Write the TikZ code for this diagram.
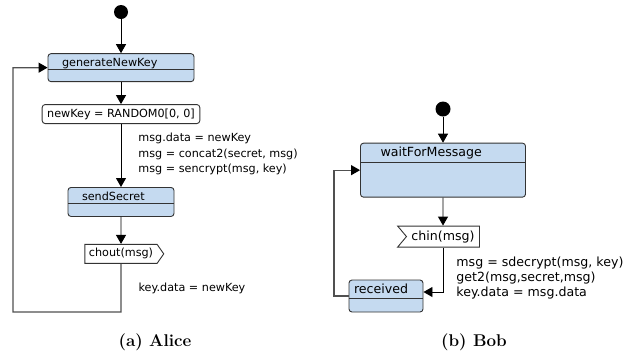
\documentclass[tikz,border=0pt]{standalone}
\usepackage{xcolor}
\usepackage{fontspec}
\usepackage{tikz}
\usetikzlibrary{shapes.symbols, arrows.meta, positioning}

\newfontfamily\diagfont{DejaVu Sans}
\definecolor{stateblue}{HTML}{C5DAF0}
\definecolor{edgegray}{HTML}{333333}
\definecolor{loopgray}{HTML}{505050}

\begin{document}
\begin{tikzpicture}[
  x=1pt, y=-1pt,
  init/.style={circle, fill=black, minimum size=14pt, inner sep=0pt},
  bar/.store in=\statebar, bar=16,
  state/.style={rectangle, draw=edgegray, fill=stateblue, rounded corners=3pt, line width=0.9pt,
    align=left, inner ysep=3pt, text height=10pt,
    path picture={\draw[edgegray, line width=0.9pt]
      ([yshift=-\statebar pt]path picture bounding box.north west) --
      ([yshift=-\statebar pt]path picture bounding box.north east);}},
  guard/.style={rectangle, draw=edgegray, fill=white, rounded corners=3pt, line width=0.9pt,
    inner xsep=5pt, inner ysep=2pt, minimum height=19pt},
  sendsig/.style={signal, signal to=east, signal from=nowhere, signal pointer angle=110,
    draw=edgegray, fill=white, line width=0.9pt, inner xsep=4pt, inner ysep=2pt, minimum height=19pt},
  recvsig/.style={signal, signal from=west, signal to=nowhere, signal pointer angle=100,
    draw=edgegray, fill=white, line width=0.9pt, inner xsep=5pt, inner ysep=2pt, minimum height=21pt},
  effect/.style={align=left, inner sep=0pt},
  arr/.style={-{Triangle[length=9pt, width=10pt, color=black]}, line width=0.9pt},
  loopline/.style={draw=loopgray, line width=1.2pt},
  caption/.style={font=\bfseries\fontsize{17}{20}\selectfont},
]
\useasboundingbox (0,0) rectangle (644,360);

% Alice
\begin{scope}[nodes={font=\diagfont\fontsize{11.2}{15.5}\selectfont}]
\node[init] (aliceinit) at (121,12) {};
\node[state, below=34pt of aliceinit, text width=118pt, inner xsep=14pt, text depth=12pt, bar=16] (gen) {generateNewKey};
\node[guard, below=22pt of gen] (newkey) {newKey = RANDOM0[0, 0]};
\node[state, below=63pt of newkey, text width=78pt, inner xsep=14pt, text depth=13pt, bar=16] (send) {sendSecret};
\node[sendsig, below=27pt of send] (chout) {chout(msg)};
\coordinate (aliceturn) at (121,312);
\coordinate (aliceback) at (13,312);

\draw[arr] (aliceinit) -- (gen);
\draw[arr] (gen) -- (newkey);
\draw[arr] (newkey) -- node[effect, right=17pt, pos=0.48]
  {msg.data = newKey\\msg = concat2(secret, msg)\\msg = sencrypt(msg, key)} (send);
\draw[arr] (send) -- (chout);
\draw[arr, loopline] (chout) -- node[effect, right=17pt, pos=0.52] {key.data = newKey}
  (aliceturn) -- (aliceback) |- (gen);
\end{scope}

% Bob
\begin{scope}[nodes={font=\diagfont\fontsize{12.6}{15.2}\selectfont}]
\node[init, minimum size=15pt] (bobinit) at (443,109) {};
\node[state, below=26pt of bobinit, text width=125pt, inner xsep=20pt, text depth=38pt, bar=19] (wait) {waitForMessage};
\node[recvsig, below=28pt of wait] (chin) {chin(msg)};
\node[state, text width=64pt, inner xsep=5pt, text depth=16pt, bar=18] (recv) at (386,296) {received};
\coordinate (bobback) at (334,296);

\draw[arr] (bobinit) -- (wait);
\draw[arr] (wait) -- (chin);
\draw[arr] (chin) |- node[effect, right=13pt, pos=0.34]
  {msg = sdecrypt(msg, key)\\get2(msg,secret,msg)\\key.data = msg.data} ([yshift=4pt]recv.east);
\draw[arr, loopline] (recv) -- (bobback) |- (wait);
\end{scope}

\node[caption] (alicecap) at (155,342) {(a) Alice};
\node[caption] (bobcap) at (474,342) {(b) Bob};
\end{tikzpicture}
\end{document}
